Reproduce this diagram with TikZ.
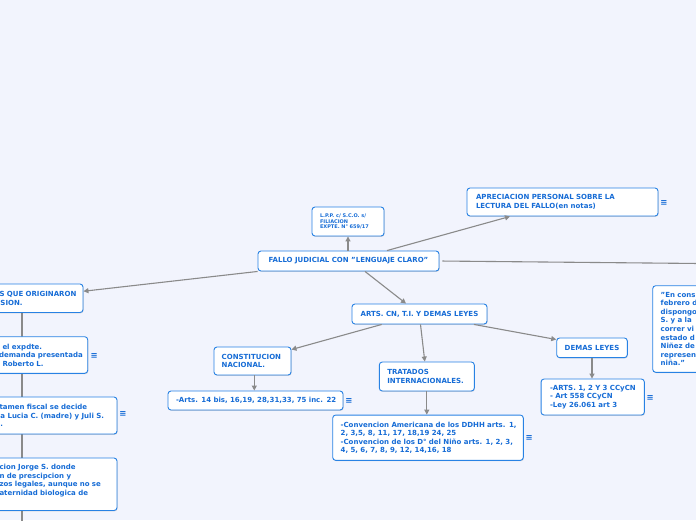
\documentclass[tikz,border=0pt]{standalone}
\usepackage{fontspec}
\setmainfont{DejaVu Sans}
\usetikzlibrary{arrows.meta,shadows}
\definecolor{bg}{RGB}{242,244,253}
\definecolor{bblue}{RGB}{40,130,228}
\definecolor{tblue}{RGB}{22,108,214}
\definecolor{lgray}{RGB}{138,138,138}
\newcommand{\ml}[1]{\mbox{#1}}
\tikzset{
 bx/.style={draw=bblue, fill=white, rounded corners=3pt, line width=0.9pt, text=tblue,
   font=\bfseries\fontsize{7}{8.5}\selectfont, inner ysep=0pt, align=left,
   drop shadow={shadow xshift=0.6pt, shadow yshift=-0.8pt, opacity=0.25, fill=black!60}},
 arr/.style={draw=lgray, line width=1.1pt, -{Triangle[length=5pt,width=5pt]}},
 ln/.style={draw=lgray, line width=1.1pt},
 eq/.style={text=tblue, font=\bfseries\fontsize{8.5}{9}\selectfont, inner sep=0pt},
}
\begin{document}
\begin{tikzpicture}[x=1pt,y=-1pt]
\useasboundingbox (0,0) rectangle (696,520);
\fill[bg] (0,0) rectangle (696,520);
\clip (0,0) rectangle (696,520);

% nodes
\node[bx, align=center, minimum width=181pt, minimum height=20pt, inner xsep=0pt] (main) at (348.5,261) {FALLO JUDICIAL CON \char"22 LENGUAJE CLARO\char"22};
\node[bx, font=\bfseries\fontsize{5}{5.8}\selectfont, minimum width=72pt, minimum height=29pt, inner xsep=8pt, text width=56pt] (lpp) at (348,221.5) {\ml{L.P.P. c/ S.C.O. s/}\\FILIACION\\\ml{EXPTE. N° 659/17}};
\node[bx, minimum width=191pt, minimum height=28pt, inner xsep=9pt, text width=173pt] (apre) at (562.5,202) {\ml{APRECIACION PERSONAL SOBRE LA}\\\ml{LECTURA DEL FALLO(en notas)}};
\node[bx, align=center, minimum width=135pt, minimum height=20pt, inner xsep=0pt] (arts) at (419.5,314) {ARTS. CN, T.I. Y DEMAS LEYES};
\node[bx, minimum width=77pt, minimum height=28pt, inner xsep=7.7pt, text width=61.6pt] (const) at (252.5,361) {\ml{CONSTITUCION}\\\ml{NACIONAL.}};
\node[bx, minimum width=175pt, minimum height=19pt, inner xsep=8pt, text width=159pt] (arts14) at (255.5,400.5) {\ml{-Arts. 14 bis, 16,19, 28,31,33, 75 inc. 22}};
\node[bx, minimum width=95pt, minimum height=29pt, inner xsep=8pt, text width=79pt] (trat) at (426.8,376.5) {\ml{TRATADOS}\\\ml{INTERNACIONALES.}};
\node[bx, minimum width=190.6pt, minimum height=45.3pt, inner xsep=8pt, text width=174.6pt] (conv) at (428,437.7) {\ml{-Convencion Americana de los DDHH arts. 1,}\\\ml{2, 3,5, 8, 11, 17, 18,19 24, 25}\\\ml{-Convencion de los D° del Niño arts. 1, 2, 3,}\\\ml{4, 5, 6, 7, 8, 9, 12, 14,16, 18}};
\node[bx, align=center, minimum width=70.6pt, minimum height=19.7pt, inner xsep=0pt] (demas) at (592,347.8) {DEMAS LEYES};
\node[bx, minimum width=103.3pt, minimum height=36pt, inner xsep=9pt, text width=85.3pt] (dchild) at (592.7,397) {\ml{-ARTS. 1, 2 Y 3 CCyCN}\\\ml{- Art 558 CCyCN}\\\ml{-Ley 26.061 art 3}};
\node[bx, font=\bfseries\fontsize{7}{8.6}\selectfont, minimum width=100pt, minimum height=86.6pt, inner xsep=8pt, text width=84pt] (quote) at (702.7,329) {\ml{\char"22 En cons}\\\ml{febrero d}\\\ml{dispongo}\\\ml{S. y a la}\\\ml{correr vi}\\\ml{estado d}\\\ml{Niñez de}\\\ml{represen}\\\ml{niña.\char"22}};

% left column
\coordinate (vend) at (22,522);
\coordinate (offr) at (700,263.5);
\draw[ln] (22,300) -- (vend);
\node[bx, minimum width=93pt, minimum height=28.5pt, inner xsep=9.5pt, text width=74pt] (hechos) at (36.5,298.25) {\ml{S QUE ORIGINARON}\\\ml{\hspace{1pt}SION.}};
\node[bx, minimum width=97.7pt, minimum height=36.6pt, inner xsep=9pt, text width=79.7pt] (expdte) at (38.85,355) {\ml{\hspace{3.5pt}el expdte.}\\\ml{demanda presentada}\\\ml{\hspace{3.5pt}Roberto L.}};
\node[bx, minimum width=127pt, minimum height=37pt, inner xsep=9pt, text width=109pt] (dict) at (53.5,415.5) {\ml{\hspace{0.5pt}tamen fiscal se decide}\\\ml{\hspace{1.5pt}a Lucia C. (madre) y Juli S.}\\\ml{\hspace{1.5pt}.}};
\node[bx, minimum width=127pt, minimum height=52.5pt, inner xsep=9pt, text width=109pt] (jorge) at (53.5,484.25) {\ml{\hspace{0.5pt}cion Jorge S. donde}\\\ml{\hspace{0.5pt}n de prescipcion y}\\\ml{\hspace{0.5pt}zos legales, aunque no se}\\\ml{\hspace{0.5pt}aternidad biologica de}\\\mbox{}};

% note icons
\node[eq] (eqA) at (664,202.5) {≡};
\node[eq] (eqB) at (94.3,355.5) {≡};
\node[eq] (eqC) at (123,414) {≡};
\node[eq] (eqD) at (349,401) {≡};
\node[eq] (eqE) at (529.3,437.5) {≡};
\node[eq] (eqF) at (650.3,397.5) {≡};

% connectors
\draw[arr] (lpp.south |- main.north) -- (lpp.south);
\draw[arr] ([xshift=38.5pt]main.north) -- ([xshift=-52.5pt]apre.south);
\draw[ln, shorten <=3pt] (main.east) -- (offr);
\draw[arr] (main.south west) -- ([yshift=7pt]hechos.east);
\draw[arr] ([xshift=16.5pt]main.south) -- ([xshift=-13.5pt]arts.north);
\draw[arr] ([xshift=-37.8pt]arts.south) -- ([yshift=-3pt]const.north east);
\draw[arr] ([xshift=1pt]arts.south) -- ([xshift=-2pt]trat.north);
\draw[arr] ([xshift=54.5pt]arts.south) -- ([yshift=-2pt]demas.north west);
\draw[arr] ([xshift=1.8pt]const.south) -- ([xshift=1.8pt]const.south |- arts14.north);
\draw[arr] (trat.south) -- (trat.south |- conv.north);
\draw[arr] (demas.south) -- (demas.south |- dchild.north);
\end{tikzpicture}
\end{document}
